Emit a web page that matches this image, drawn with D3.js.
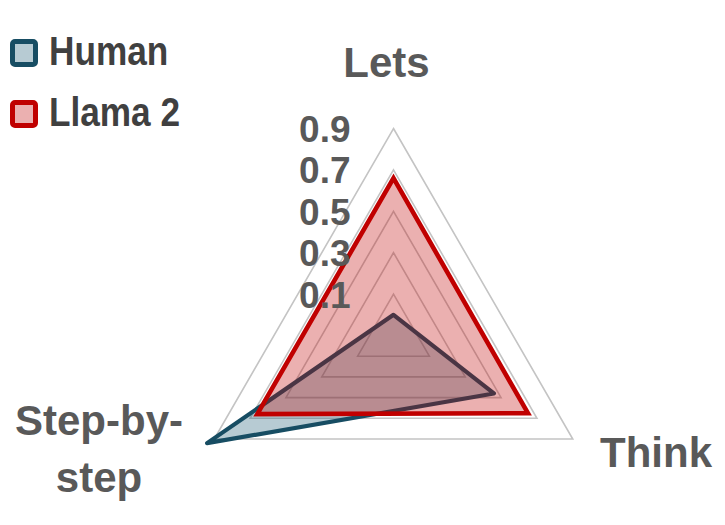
<!DOCTYPE html>
<html>
<head>
<meta charset="utf-8">
<script src="https://cdn.jsdelivr.net/npm/d3@7"></script>
<style>
  html, body { margin: 0; padding: 0; background: #ffffff; }
  svg { display: block; }
</style>
</head>
<body>
<svg id="chart" width="725" height="525"></svg>
<script>
// ---- data ----
const categories = ["Lets", "Think", "Step-by-step"];
const humanValues = [0.0, 0.46, 0.94];
const llamaValues = [0.66, 0.65, 0.66];
const seriesNames = ["Human", "Llama 2"];
const tickValues = [0.1, 0.3, 0.5, 0.7, 0.9];
const tickLabels = ["0.1", "0.3", "0.5", "0.7", "0.9"];

// ---- layout ----
const svg = d3.select("#chart");
const cx = 393.5, cy = 335.5, R = 207;
const r = d3.scaleLinear().domain([-0.1, 0.9]).range([0, R]);
const angle = d3.scalePoint().domain(categories).range([0, 2 * Math.PI * 2 / 3]);

const g = svg.append("g").attr("transform", `translate(${cx},${cy})`);

const radial = d3.lineRadial()
  .angle(d => angle(d.cat))
  .radius(d => r(d.v))
  .curve(d3.curveLinearClosed);

// grid rings
g.selectAll("path.ring")
  .data(tickValues)
  .join("path")
  .attr("class", "ring")
  .attr("d", t => radial(categories.map(c => ({ cat: c, v: t }))))
  .attr("fill", "none")
  .attr("stroke", "#c4c4c4")
  .attr("stroke-width", 1.6);

const series = [
  { name: seriesNames[0], values: humanValues, fill: "rgba(18,82,108,0.3)", stroke: "#174d63", join: "round", sw: 4.2 },
  { name: seriesNames[1], values: llamaValues, fill: "rgba(192,0,0,0.31)", stroke: "#c00000", join: "miter", sw: 4.6 }
];

g.selectAll("path.series")
  .data(series)
  .join("path")
  .attr("class", "series")
  .attr("d", s => radial(categories.map((c, i) => ({ cat: c, v: s.values[i] }))))
  .attr("fill", s => s.fill)
  .attr("stroke", s => s.stroke)
  .attr("stroke-width", s => s.sw)
  .attr("stroke-linejoin", s => s.join);

// tick labels
g.selectAll("text.tick")
  .data(tickValues)
  .join("text")
  .attr("class", "tick")
  .attr("x", -43)
  .attr("y", t => -r(t) + 13.5)
  .attr("text-anchor", "end")
  .attr("font-family", "'Liberation Sans', Arial, sans-serif")
  .attr("font-weight", "bold")
  .attr("font-size", 37)
  .attr("fill", "#595959")
  .text((t, i) => tickLabels[i]);

// category labels
const catFont = "'Liberation Sans', Arial, sans-serif";
const catLabelPos = {
  "Lets": { x: 386.5, y: 77, lines: ["Lets"] },
  "Think": { x: 656, y: 467, lines: ["Think"] },
  "Step-by-step": { x: 99, y: 435, lines: ["Step-by-", "step"] }
};
categories.forEach(c => {
  const p = catLabelPos[c];
  const t = svg.append("text")
    .attr("x", p.x).attr("y", p.y)
    .attr("text-anchor", "middle")
    .attr("font-family", catFont)
    .attr("font-weight", "bold")
    .attr("font-size", 42)
    .attr("fill", "#595959");
  p.lines.forEach((ln, i) => {
    t.append("tspan").attr("x", p.x).attr("dy", i === 0 ? 0 : 57).text(ln);
  });
});

// legend
const legendY = [41.5, 102.5];
const leg = svg.selectAll("g.legend")
  .data(series)
  .join("g")
  .attr("class", "legend")
  .attr("transform", (s, i) => `translate(12.5,${legendY[i]})`);
leg.append("rect")
  .attr("width", 23).attr("height", 23)
  .attr("rx", 2.5)
  .attr("fill", s => s.fill)
  .attr("stroke", s => s.stroke)
  .attr("stroke-width", 5);
leg.append("text")
  .attr("transform", "translate(36.5,23.5) scale(0.88,1)")
  .attr("font-family", "'Liberation Sans', Arial, sans-serif")
  .attr("font-weight", "bold")
  .attr("font-size", 40)
  .attr("fill", "#404040")
  .text(s => s.name);
</script>
</body>
</html>
